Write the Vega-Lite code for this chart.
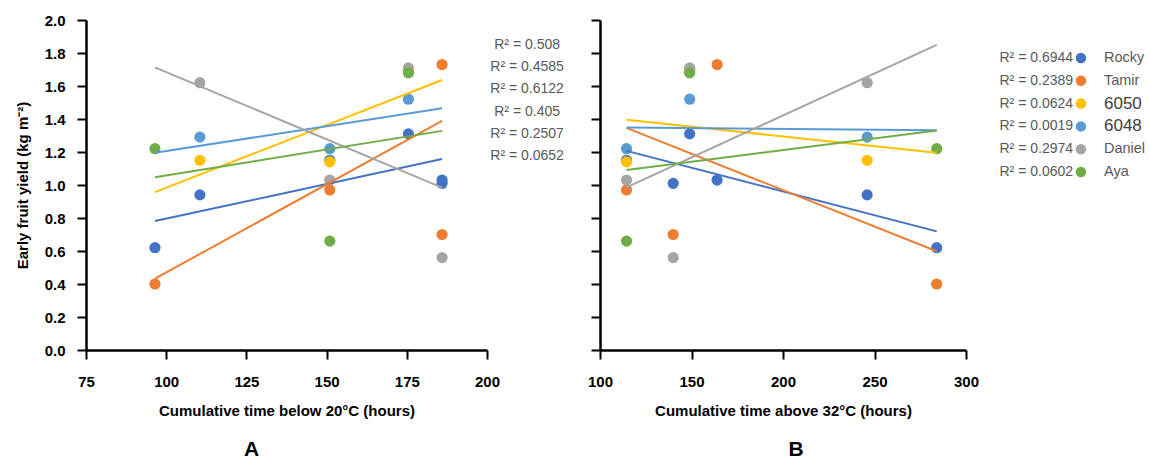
{
  "$schema": "https://vega.github.io/schema/vega-lite/v6.json",
  "background": "white",
  "padding": {"left": 15, "top": 13, "right": 0, "bottom": 0},
  "bounds": "flush",
  "spacing": 113,
  "config": {
    "font": "Liberation Sans",
    "view": {"stroke": null},
    "axis": {
      "grid": false,
      "domainColor": "black",
      "domainWidth": 2.5,
      "tickColor": "black",
      "tickWidth": 2,
      "tickSize": 9,
      "labelFlush": false,
      "labelFont": "Liberation Sans",
      "labelFontSize": 15,
      "labelFontWeight": "bold",
      "labelColor": "black",
      "titleFont": "Liberation Sans",
      "titleFontSize": 15,
      "titleFontWeight": "bold",
      "titleColor": "black"
    },
    "axisX": {"labelPadding": 15, "titlePadding": 14},
    "axisY": {"labelPadding": 12, "titlePadding": 14}
  },
  "datasets": {
    "obs": [
      {"cultivar": "Rocky", "xA": 96.5, "xB": 284, "yield": 0.62},
      {"cultivar": "Rocky", "xA": 110.5, "xB": 246, "yield": 0.94},
      {"cultivar": "Rocky", "xA": 151, "xB": 114.5, "yield": 1.15},
      {"cultivar": "Rocky", "xA": 175.5, "xB": 149, "yield": 1.31},
      {"cultivar": "Rocky", "xA": 186, "xB": 140, "yield": 1.01},
      {"cultivar": "Rocky", "xA": 186, "xB": 164, "yield": 1.03},
      {"cultivar": "Tamir", "xA": 96.5, "xB": 284, "yield": 0.40},
      {"cultivar": "Tamir", "xA": 151, "xB": 114.5, "yield": 0.97},
      {"cultivar": "Tamir", "xA": 175.5, "xB": 149, "yield": 1.70},
      {"cultivar": "Tamir", "xA": 186, "xB": 140, "yield": 0.70},
      {"cultivar": "Tamir", "xA": 186, "xB": 164, "yield": 1.73},
      {"cultivar": "6050", "xA": 110.5, "xB": 246, "yield": 1.15},
      {"cultivar": "6050", "xA": 151, "xB": 114.5, "yield": 1.14},
      {"cultivar": "6050", "xA": 175.5, "xB": 149, "yield": 1.70},
      {"cultivar": "6048", "xA": 110.5, "xB": 246, "yield": 1.29},
      {"cultivar": "6048", "xA": 151, "xB": 114.5, "yield": 1.22},
      {"cultivar": "6048", "xA": 175.5, "xB": 149, "yield": 1.52},
      {"cultivar": "Daniel", "xA": 110.5, "xB": 246, "yield": 1.62},
      {"cultivar": "Daniel", "xA": 151, "xB": 114.5, "yield": 1.03},
      {"cultivar": "Daniel", "xA": 175.5, "xB": 149, "yield": 1.71},
      {"cultivar": "Daniel", "xA": 186, "xB": 140, "yield": 0.56},
      {"cultivar": "Aya", "xA": 96.5, "xB": 284, "yield": 1.22},
      {"cultivar": "Aya", "xA": 151, "xB": 114.5, "yield": 0.66},
      {"cultivar": "Aya", "xA": 175.5, "xB": 149, "yield": 1.68}
    ],
    "r2": [
      {"cultivar": "Rocky", "labelA": "R² = 0.508", "labelB": "R² = 0.6944"},
      {"cultivar": "Tamir", "labelA": "R² = 0.4585", "labelB": "R² = 0.2389"},
      {"cultivar": "6050", "labelA": "R² = 0.6122", "labelB": "R² = 0.0624"},
      {"cultivar": "6048", "labelA": "R² = 0.405", "labelB": "R² = 0.0019"},
      {"cultivar": "Daniel", "labelA": "R² = 0.2507", "labelB": "R² = 0.2974"},
      {"cultivar": "Aya", "labelA": "R² = 0.0652", "labelB": "R² = 0.0602"}
    ]
  },
  "hconcat": [
    {
      "width": 401,
      "height": 330,
      "title": {"text": "A", "orient": "bottom", "frame": "group", "anchor": "middle", "dx": -35, "offset": 21, "fontSize": 21, "fontWeight": "bold", "color": "black", "font": "Liberation Sans"},
      "resolve": {"scale": {"y": "independent"}},
      "layer": [
        {
          "data": {"name": "obs"},
          "mark": {"type": "point", "filled": true, "opacity": 1, "size": 125, "shape": "circle"},
          "encoding": {
            "x": {"field": "xA", "type": "quantitative", "scale": {"domain": [75, 200], "nice": false, "zero": false}, "axis": {"values": [75, 100, 125, 150, 175, 200], "title": "Cumulative time below 20°C (hours)"}},
            "y": {"field": "yield", "type": "quantitative", "scale": {"domain": [0, 2], "nice": false}, "axis": {"values": [0, 0.2, 0.4, 0.6, 0.8, 1.0, 1.2, 1.4, 1.6, 1.8, 2.0], "format": ".1f", "title": "Early fruit yield (kg m⁻²)"}},
            "color": {"field": "cultivar", "type": "nominal", "scale": {"domain": ["Rocky", "Tamir", "6050", "6048", "Daniel", "Aya"], "range": ["#4472C4", "#ED7D31", "#FFC000", "#5B9BD5", "#A5A5A5", "#70AD47"]}, "legend": null}
          }
        },
        {
          "data": {"name": "obs"},
          "transform": [{"regression": "yield", "on": "xA", "groupby": ["cultivar"], "extent": [96.5, 186]}],
          "mark": {"type": "line", "strokeWidth": 2},
          "encoding": {
            "x": {"field": "xA", "type": "quantitative", "scale": {"domain": [75, 200], "nice": false, "zero": false}},
            "y": {"field": "yield", "type": "quantitative", "scale": {"domain": [0, 2], "nice": false}, "axis": null},
            "color": {"field": "cultivar", "type": "nominal", "legend": null}
          }
        },
        {
          "data": {"name": "r2"},
          "mark": {"type": "text", "align": "center", "baseline": "middle", "fontSize": 14, "color": "#595959", "clip": false},
          "encoding": {
            "x": {"datum": 212.5, "type": "quantitative", "scale": {"domain": [75, 200], "nice": false, "zero": false}},
            "y": {"field": "cultivar", "type": "nominal", "scale": {"type": "point", "domain": ["Rocky", "Tamir", "6050", "6048", "Daniel", "Aya"], "range": [25, 136], "padding": 0}, "axis": null},
            "text": {"field": "labelA"}
          }
        }
      ]
    },
    {
      "width": 366,
      "height": 330,
      "title": {"text": "B", "orient": "bottom", "frame": "group", "anchor": "middle", "dx": 13, "offset": 21, "fontSize": 21, "fontWeight": "bold", "color": "black", "font": "Liberation Sans"},
      "resolve": {"scale": {"y": "independent"}},
      "layer": [
        {
          "data": {"name": "obs"},
          "mark": {"type": "point", "filled": true, "opacity": 1, "size": 125, "shape": "circle"},
          "encoding": {
            "x": {"field": "xB", "type": "quantitative", "scale": {"domain": [100, 300], "nice": false, "zero": false}, "axis": {"values": [100, 150, 200, 250, 300], "title": "Cumulative time above 32°C (hours)"}},
            "y": {"field": "yield", "type": "quantitative", "scale": {"domain": [0, 2], "nice": false}, "axis": {"values": [0, 0.2, 0.4, 0.6, 0.8, 1.0, 1.2, 1.4, 1.6, 1.8, 2.0], "labels": false, "title": null}},
            "color": {"field": "cultivar", "type": "nominal", "legend": null}
          }
        },
        {
          "data": {"name": "obs"},
          "transform": [{"regression": "yield", "on": "xB", "groupby": ["cultivar"], "extent": [114.5, 284]}],
          "mark": {"type": "line", "strokeWidth": 2},
          "encoding": {
            "x": {"field": "xB", "type": "quantitative", "scale": {"domain": [100, 300], "nice": false, "zero": false}},
            "y": {"field": "yield", "type": "quantitative", "scale": {"domain": [0, 2], "nice": false}, "axis": null},
            "color": {"field": "cultivar", "type": "nominal", "legend": null}
          }
        },
        {
          "data": {"name": "r2"},
          "mark": {"type": "text", "align": "right", "baseline": "middle", "fontSize": 14, "color": "#595959", "clip": false},
          "encoding": {
            "x": {"datum": 358.5, "type": "quantitative", "scale": {"domain": [100, 300], "nice": false, "zero": false}},
            "y": {"field": "cultivar", "type": "nominal", "scale": {"type": "point", "domain": ["Rocky", "Tamir", "6050", "6048", "Daniel", "Aya"], "range": [38, 152], "padding": 0}, "axis": null},
            "text": {"field": "labelB"}
          }
        },
        {
          "data": {"name": "r2"},
          "mark": {"type": "point", "filled": true, "opacity": 1, "size": 110, "shape": "circle", "clip": false},
          "encoding": {
            "x": {"datum": 362.8, "type": "quantitative", "scale": {"domain": [100, 300], "nice": false, "zero": false}},
            "y": {"field": "cultivar", "type": "nominal", "scale": {"type": "point", "domain": ["Rocky", "Tamir", "6050", "6048", "Daniel", "Aya"], "range": [38, 152], "padding": 0}, "axis": null},
            "color": {"field": "cultivar", "type": "nominal", "legend": null}
          }
        },
        {
          "data": {"name": "r2"},
          "mark": {"type": "text", "align": "left", "baseline": "middle", "clip": false},
          "encoding": {
            "x": {"datum": 375.4, "type": "quantitative", "scale": {"domain": [100, 300], "nice": false, "zero": false}},
            "y": {"field": "cultivar", "type": "nominal", "scale": {"type": "point", "domain": ["Rocky", "Tamir", "6050", "6048", "Daniel", "Aya"], "range": [38, 152], "padding": 0}, "axis": null},
            "text": {"field": "cultivar"},
            "size": {"condition": {"test": "datum.cultivar === '6050' || datum.cultivar === '6048'", "value": 17}, "value": 14.5},
            "color": {"condition": {"test": "datum.cultivar === '6050' || datum.cultivar === '6048'", "value": "#404040"}, "value": "#595959"}
          }
        }
      ]
    }
  ]
}
